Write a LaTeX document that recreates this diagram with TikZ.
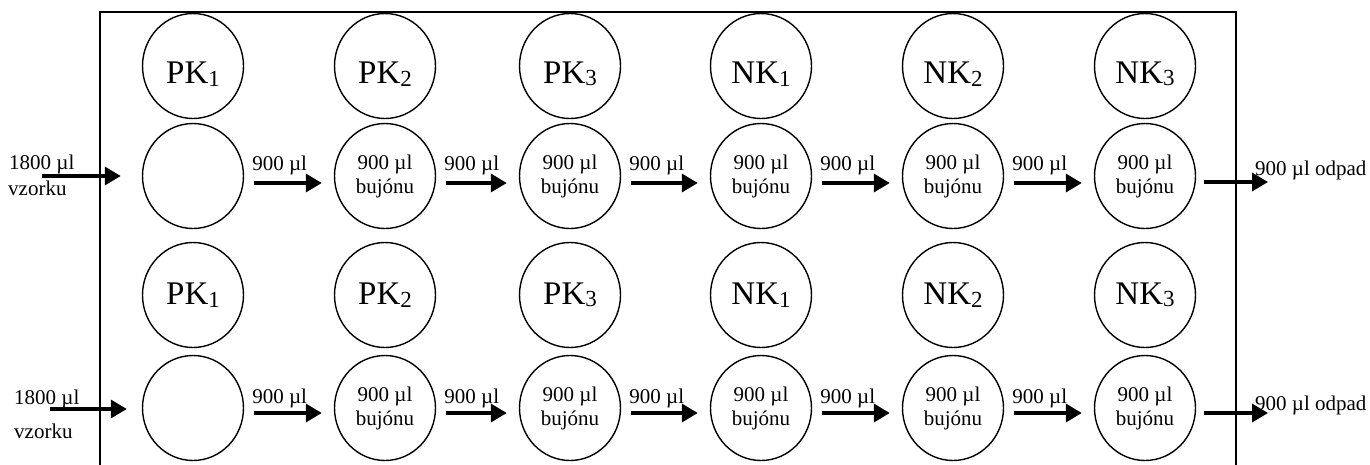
\documentclass[tikz,border=0pt]{standalone}
\usepackage{fontspec}
\setmainfont{Liberation Serif}
\usetikzlibrary{arrows.meta,shapes.geometric}
\newcommand\pklab[2]{#1\raisebox{-2.5pt}{\fontsize{23}{23}\selectfont #2}}
\begin{document}
\begin{tikzpicture}[x=1pt,y=-1pt,
  circ/.style={ellipse,draw,line width=1.4pt,minimum width=101pt,minimum height=105pt,inner sep=0pt,
    font=\fontsize{21}{24}\selectfont,align=center},
  big/.style={font=\fontsize{33}{33}\selectfont,inner sep=0pt},
  arr/.style={line width=3.5pt,-{Triangle[length=16pt,width=18pt]}},
  lab/.style={font=\fontsize{21}{24}\selectfont,inner sep=0pt,anchor=base west}]
\useasboundingbox (0,0) rectangle (1370,464);
\draw[line width=1.6pt] (100,480) -- (100,12) -- (1236,12) -- (1236,480);
% row 1 and row 3: labels
\foreach \x/\t/\s [count=\i] in {193/PK/1,385/PK/2,570/PK/3,761/NK/1,953/NK/2,1145/NK/3}{
  \node[circ] (r1c\i) at (\x,66) {};
  \node[big] (t1c\i) at ([yshift=-8pt]r1c\i.center) {\pklab{\t}{\s}};
  \node[circ] (r3c\i) at (\x,295) {};
  \node[big] (t3c\i) at (r3c\i.center) {\pklab{\t}{\s}};
}
% row 2 and row 4
\node[circ] (r2c1) at (193,176) {};
\node[circ] (r4c1) at (193,408) {};
\foreach \x [count=\i from 2] in {385,570,761,953,1145}{
  \node[circ] (r2c\i) at (\x,176) {900 µl\\bujónu};
  \node[circ] (r4c\i) at (\x,408) {900 µl\\bujónu};
}
% arrows between
\foreach \i [count=\j from 2] in {1,...,5}{
  \draw[arr,shorten <=10pt,shorten >=12pt] ([yshift=-7pt]r2c\i.east) -- ([yshift=-7pt]r2c\j.west);
  \node[lab] (l2c\i) at ([xshift=8pt,yshift=6pt]r2c\i.east) {900 µl};
  \draw[arr,shorten <=10pt,shorten >=12pt] ([yshift=-5pt]r4c\i.east) -- ([yshift=-5pt]r4c\j.west);
  \node[lab] (l4c\i) at ([xshift=8pt,yshift=5pt]r4c\i.east) {900 µl};
}
% inputs
\coordinate (in2) at (42,176);
\coordinate (in4) at (50,409);
\draw[arr,shorten >=21pt] (in2) -- (r2c1.west);
\draw[arr,shorten >=15pt] (in4) -- (in4 -| r4c1.west);
\node[lab] (i2a) at (9,169) {1800 µl};
\node[lab] (i2b) at (8,195) {vzorku};
\node[lab] (i4a) at (14,404) {1800 µl};
\node[lab] (i4b) at (14,438) {vzorku};
% outputs
\coordinate (out2) at (1268,182);
\coordinate (out4) at (1268,413);
\draw[arr,shorten <=8pt] (r2c6.east |- out2) -- (out2);
\draw[arr,shorten <=8pt] (r4c6.east |- out4) -- (out4);
\node[lab] (o2) at (1255,175) {900 µl odpad};
\node[lab] (o4) at (1255,410) {900 µl odpad};
\end{tikzpicture}
\end{document}
